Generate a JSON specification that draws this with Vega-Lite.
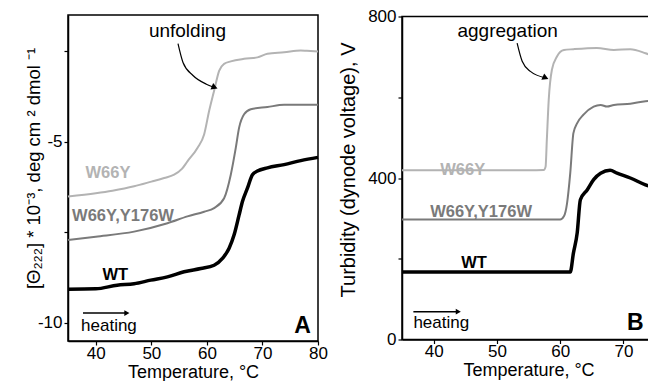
{
  "$schema": "https://vega.github.io/schema/vega-lite/v6.json",
  "background": "white",
  "padding": {"left": 23, "top": 6, "right": 0, "bottom": 0},
  "spacing": 84,
  "bounds": "flush",
  "center": true,
  "config": {
    "font": "Liberation Sans",
    "view": {"stroke": "black", "strokeWidth": 1.5},
    "axis": {"grid": false, "domainColor": "black", "domainWidth": 1.5, "tickColor": "black", "tickSize": 4, "tickWidth": 1.2, "labelColor": "black", "titleColor": "black", "labelFontSize": 17, "titleFontSize": 18, "titleFontWeight": "normal", "labelPadding": 2, "labelFlush": false, "labelOverlap": false},
    "axisX": {"labelPadding": 0, "titlePadding": 2}
  },
  "datasets": {
    "cd": [
      {"series": "W66Y", "T": 35, "v": -6.51}, {"series": "W66Y", "T": 40, "v": -6.42}, {"series": "W66Y", "T": 43, "v": -6.35}, {"series": "W66Y", "T": 46.9, "v": -6.23}, {"series": "W66Y", "T": 50, "v": -6.1}, {"series": "W66Y", "T": 52.3, "v": -6.0}, {"series": "W66Y", "T": 54.1, "v": -5.91}, {"series": "W66Y", "T": 55.5, "v": -5.75}, {"series": "W66Y", "T": 56.5, "v": -5.54}, {"series": "W66Y", "T": 58.3, "v": -5.17}, {"series": "W66Y", "T": 59.5, "v": -4.8}, {"series": "W66Y", "T": 60.4, "v": -4.15}, {"series": "W66Y", "T": 61.3, "v": -3.59}, {"series": "W66Y", "T": 62.2, "v": -3.04}, {"series": "W66Y", "T": 63.1, "v": -2.85}, {"series": "W66Y", "T": 64.3, "v": -2.78}, {"series": "W66Y", "T": 66.7, "v": -2.71}, {"series": "W66Y", "T": 69.1, "v": -2.67}, {"series": "W66Y", "T": 70.9, "v": -2.57}, {"series": "W66Y", "T": 73.9, "v": -2.53}, {"series": "W66Y", "T": 76.9, "v": -2.48}, {"series": "W66Y", "T": 78, "v": -2.49}, {"series": "W66Y", "T": 80, "v": -2.51},
      {"series": "W66Y,Y176W", "T": 35, "v": -7.71}, {"series": "W66Y,Y176W", "T": 40, "v": -7.62}, {"series": "W66Y,Y176W", "T": 46.9, "v": -7.48}, {"series": "W66Y,Y176W", "T": 52.9, "v": -7.25}, {"series": "W66Y,Y176W", "T": 56.5, "v": -7.06}, {"series": "W66Y,Y176W", "T": 59.5, "v": -6.93}, {"series": "W66Y,Y176W", "T": 61.3, "v": -6.83}, {"series": "W66Y,Y176W", "T": 63.1, "v": -6.56}, {"series": "W66Y,Y176W", "T": 64.3, "v": -5.91}, {"series": "W66Y,Y176W", "T": 65.2, "v": -5.17}, {"series": "W66Y,Y176W", "T": 65.8, "v": -4.61}, {"series": "W66Y,Y176W", "T": 66.7, "v": -4.24}, {"series": "W66Y,Y176W", "T": 67.9, "v": -4.1}, {"series": "W66Y,Y176W", "T": 70.9, "v": -4.04}, {"series": "W66Y,Y176W", "T": 73.9, "v": -3.98}, {"series": "W66Y,Y176W", "T": 76.9, "v": -3.98}, {"series": "W66Y,Y176W", "T": 80, "v": -3.98},
      {"series": "WT", "T": 35, "v": -9.07}, {"series": "WT", "T": 40, "v": -9.06}, {"series": "WT", "T": 43.85, "v": -8.96}, {"series": "WT", "T": 46.9, "v": -8.92}, {"series": "WT", "T": 49.9, "v": -8.82}, {"series": "WT", "T": 52.9, "v": -8.73}, {"series": "WT", "T": 55.9, "v": -8.59}, {"series": "WT", "T": 58.9, "v": -8.5}, {"series": "WT", "T": 61.3, "v": -8.41}, {"series": "WT", "T": 62.8, "v": -8.22}, {"series": "WT", "T": 64.0, "v": -7.94}, {"series": "WT", "T": 64.9, "v": -7.57}, {"series": "WT", "T": 65.8, "v": -7.02}, {"series": "WT", "T": 66.4, "v": -6.65}, {"series": "WT", "T": 67.3, "v": -6.28}, {"series": "WT", "T": 68.2, "v": -5.91}, {"series": "WT", "T": 69.1, "v": -5.81}, {"series": "WT", "T": 70.9, "v": -5.72}, {"series": "WT", "T": 73.9, "v": -5.63}, {"series": "WT", "T": 76.9, "v": -5.52}, {"series": "WT", "T": 80, "v": -5.43}
    ],
    "tb": [
      {"series": "W66Y", "T": 35, "v": 419}, {"series": "W66Y", "T": 45, "v": 419}, {"series": "W66Y", "T": 55, "v": 419}, {"series": "W66Y", "T": 57.4, "v": 420}, {"series": "W66Y", "T": 57.7, "v": 428}, {"series": "W66Y", "T": 57.9, "v": 495}, {"series": "W66Y", "T": 58.2, "v": 594}, {"series": "W66Y", "T": 58.7, "v": 668}, {"series": "W66Y", "T": 59.5, "v": 701}, {"series": "W66Y", "T": 60.6, "v": 717}, {"series": "W66Y", "T": 62.1, "v": 719}, {"series": "W66Y", "T": 65.8, "v": 722}, {"series": "W66Y", "T": 68.5, "v": 717}, {"series": "W66Y", "T": 71.1, "v": 719}, {"series": "W66Y", "T": 73.5, "v": 709}, {"series": "W66Y", "T": 75, "v": 700},
      {"series": "W66Y,Y176W", "T": 35, "v": 297}, {"series": "W66Y,Y176W", "T": 50, "v": 297}, {"series": "W66Y,Y176W", "T": 60.0, "v": 297}, {"series": "W66Y,Y176W", "T": 60.6, "v": 305}, {"series": "W66Y,Y176W", "T": 61.1, "v": 338}, {"series": "W66Y,Y176W", "T": 61.6, "v": 412}, {"series": "W66Y,Y176W", "T": 62.1, "v": 511}, {"series": "W66Y,Y176W", "T": 62.7, "v": 536}, {"series": "W66Y,Y176W", "T": 63.7, "v": 557}, {"series": "W66Y,Y176W", "T": 65.3, "v": 577}, {"series": "W66Y,Y176W", "T": 66.4, "v": 581}, {"series": "W66Y,Y176W", "T": 67.4, "v": 577}, {"series": "W66Y,Y176W", "T": 68.5, "v": 581}, {"series": "W66Y,Y176W", "T": 71.1, "v": 584}, {"series": "W66Y,Y176W", "T": 73.5, "v": 590}, {"series": "W66Y,Y176W", "T": 75, "v": 591},
      {"series": "WT", "T": 35, "v": 167}, {"series": "WT", "T": 50, "v": 167}, {"series": "WT", "T": 61.6, "v": 167}, {"series": "WT", "T": 62.1, "v": 214}, {"series": "WT", "T": 62.7, "v": 264}, {"series": "WT", "T": 63.2, "v": 346}, {"series": "WT", "T": 64.3, "v": 371}, {"series": "WT", "T": 65.3, "v": 396}, {"series": "WT", "T": 66.4, "v": 412}, {"series": "WT", "T": 67.9, "v": 419}, {"series": "WT", "T": 69.0, "v": 412}, {"series": "WT", "T": 71.1, "v": 400}, {"series": "WT", "T": 73.5, "v": 383}, {"series": "WT", "T": 75, "v": 375}
    ]
  },
  "hconcat": [
    {
      "width": 250,
      "height": 326,
      "layer": [
        {
          "data": {"name": "cd"},
          "mark": {"type": "line", "interpolate": "monotone"},
          "encoding": {
            "x": {"field": "T", "type": "quantitative", "scale": {"domain": [35, 80], "nice": false, "zero": false}, "axis": {"title": "Temperature, °C", "values": [40, 45, 50, 55, 60, 65, 70, 75, 80], "labelExpr": "datum.value % 10 == 0 ? '' + datum.value : ''"}},
            "y": {"field": "v", "type": "quantitative", "scale": {"domain": [-10.5, -1.5], "nice": false, "zero": false}, "axis": {"title": "[Θ₂₂₂] * 10⁻³, deg cm ² dmol ⁻¹", "values": [-10, -7.5, -5, -2.5], "labelExpr": "datum.value % 5 == 0 ? '' + datum.value : ''", "titleX": -25, "titleY": 153, "titleFontSize": 18.5}},
            "color": {"field": "series", "type": "nominal", "scale": {"domain": ["W66Y", "W66Y,Y176W", "WT"], "range": ["#b3b3b3", "#7a7a7a", "#000000"]}, "legend": null},
            "strokeWidth": {"condition": {"test": "datum.series == 'WT'", "value": 3.5}, "value": 2}
          }
        },
        {
          "data": {"values": [{"T": 54.8, "v": -2.29}, {"T": 55.7, "v": -2.81}, {"T": 57.5, "v": -3.17}, {"T": 59.9, "v": -3.41}, {"T": 61.4, "v": -3.5}]},
          "mark": {"type": "line", "interpolate": "monotone", "color": "black", "strokeWidth": 1.2},
          "encoding": {"x": {"field": "T", "type": "quantitative"}, "y": {"field": "v", "type": "quantitative"}}
        },
        {
          "data": {"values": [{"T": 61.4, "v": -3.5}]},
          "mark": {"type": "point", "shape": "triangle-right", "filled": true, "color": "black", "size": 50, "angle": 22, "opacity": 1},
          "encoding": {"x": {"field": "T", "type": "quantitative"}, "y": {"field": "v", "type": "quantitative"}}
        },
        {
          "data": {"values": [{"T": 37.7, "T2": 45.3, "v": -9.73}]},
          "mark": {"type": "rule", "color": "black", "strokeWidth": 1.5},
          "encoding": {"x": {"field": "T", "type": "quantitative"}, "x2": {"field": "T2"}, "y": {"field": "v", "type": "quantitative"}}
        },
        {
          "data": {"values": [{"T": 45.6, "v": -9.73}]},
          "mark": {"type": "point", "shape": "triangle-right", "filled": true, "color": "black", "size": 35, "opacity": 1},
          "encoding": {"x": {"field": "T", "type": "quantitative"}, "y": {"field": "v", "type": "quantitative"}}
        },
        {
          "data": {"values": [{"T": 56.5, "v": -1.93, "t": "unfolding"}]},
          "mark": {"type": "text", "fontSize": 19, "color": "black"},
          "encoding": {"x": {"field": "T", "type": "quantitative"}, "y": {"field": "v", "type": "quantitative"}, "text": {"field": "t"}}
        },
        {
          "data": {"values": [{"T": 37.35, "v": -10.09, "t": "heating"}]},
          "mark": {"type": "text", "fontSize": 17, "color": "black", "align": "left"},
          "encoding": {"x": {"field": "T", "type": "quantitative"}, "y": {"field": "v", "type": "quantitative"}, "text": {"field": "t"}}
        },
        {
          "data": {"values": [{"T": 42.2, "v": -5.87, "series": "W66Y"}, {"T": 44.9, "v": -7.06, "series": "W66Y,Y176W"}, {"T": 43.5, "v": -8.67, "series": "WT"}]},
          "mark": {"type": "text", "fontSize": 16.5, "fontWeight": "bold"},
          "encoding": {"x": {"field": "T", "type": "quantitative"}, "y": {"field": "v", "type": "quantitative"}, "text": {"field": "series"}, "color": {"field": "series", "type": "nominal", "legend": null}}
        },
        {
          "data": {"values": [{"T": 77.2, "v": -10.09, "t": "A"}]},
          "mark": {"type": "text", "fontSize": 23, "fontWeight": "bold", "color": "black"},
          "encoding": {"x": {"field": "T", "type": "quantitative"}, "y": {"field": "v", "type": "quantitative"}, "text": {"field": "t"}}
        }
      ]
    },
    {
      "width": 253,
      "height": 323,
      "layer": [
        {
          "data": {"name": "tb"},
          "mark": {"type": "line", "interpolate": "monotone"},
          "encoding": {
            "x": {"field": "T", "type": "quantitative", "scale": {"domain": [35, 75], "nice": false, "zero": false}, "axis": {"title": "Temperature, °C", "values": [40, 45, 50, 55, 60, 65, 70, 75], "labelExpr": "datum.value % 10 == 0 ? '' + datum.value : ''"}},
            "y": {"field": "v", "type": "quantitative", "scale": {"domain": [0, 800], "nice": false, "zero": false}, "axis": {"title": "Turbidity (dynode voltage), V", "values": [0, 200, 400, 600, 800], "labelExpr": "datum.value % 400 == 0 ? '' + datum.value : ''", "titleX": -44, "titleY": 153, "titleFontSize": 20}},
            "color": {"field": "series", "type": "nominal", "scale": {"domain": ["W66Y", "W66Y,Y176W", "WT"], "range": ["#b3b3b3", "#7a7a7a", "#000000"]}, "legend": null},
            "strokeWidth": {"condition": {"test": "datum.series == 'WT'", "value": 3.5}, "value": 2}
          }
        },
        {
          "data": {"values": [{"T": 53.2, "v": 734}, {"T": 54.0, "v": 689}, {"T": 55.3, "v": 664}, {"T": 57.7, "v": 648}]},
          "mark": {"type": "line", "interpolate": "monotone", "color": "black", "strokeWidth": 1.2},
          "encoding": {"x": {"field": "T", "type": "quantitative"}, "y": {"field": "v", "type": "quantitative"}}
        },
        {
          "data": {"values": [{"T": 57.7, "v": 648}]},
          "mark": {"type": "point", "shape": "triangle-right", "filled": true, "color": "black", "size": 50, "angle": 24, "opacity": 1},
          "encoding": {"x": {"field": "T", "type": "quantitative"}, "y": {"field": "v", "type": "quantitative"}}
        },
        {
          "data": {"values": [{"T": 36.8, "T2": 43.6, "v": 69}]},
          "mark": {"type": "rule", "color": "black", "strokeWidth": 1.5},
          "encoding": {"x": {"field": "T", "type": "quantitative"}, "x2": {"field": "T2"}, "y": {"field": "v", "type": "quantitative"}}
        },
        {
          "data": {"values": [{"T": 43.9, "v": 69}]},
          "mark": {"type": "point", "shape": "triangle-right", "filled": true, "color": "black", "size": 35, "opacity": 1},
          "encoding": {"x": {"field": "T", "type": "quantitative"}, "y": {"field": "v", "type": "quantitative"}}
        },
        {
          "data": {"values": [{"T": 51.7, "v": 765, "t": "aggregation"}]},
          "mark": {"type": "text", "fontSize": 19, "color": "black"},
          "encoding": {"x": {"field": "T", "type": "quantitative"}, "y": {"field": "v", "type": "quantitative"}, "text": {"field": "t"}}
        },
        {
          "data": {"values": [{"T": 36.8, "v": 40, "t": "heating"}]},
          "mark": {"type": "text", "fontSize": 17, "color": "black", "align": "left"},
          "encoding": {"x": {"field": "T", "type": "quantitative"}, "y": {"field": "v", "type": "quantitative"}, "text": {"field": "t"}}
        },
        {
          "data": {"values": [{"T": 44.6, "v": 421, "series": "W66Y"}, {"T": 47.5, "v": 315, "series": "W66Y,Y176W"}, {"T": 46.4, "v": 189, "series": "WT"}]},
          "mark": {"type": "text", "fontSize": 16.5, "fontWeight": "bold"},
          "encoding": {"x": {"field": "T", "type": "quantitative"}, "y": {"field": "v", "type": "quantitative"}, "text": {"field": "series"}, "color": {"field": "series", "type": "nominal", "legend": null}}
        },
        {
          "data": {"values": [{"T": 71.9, "v": 40, "t": "B"}]},
          "mark": {"type": "text", "fontSize": 23, "fontWeight": "bold", "color": "black"},
          "encoding": {"x": {"field": "T", "type": "quantitative"}, "y": {"field": "v", "type": "quantitative"}, "text": {"field": "t"}}
        }
      ]
    }
  ]
}
